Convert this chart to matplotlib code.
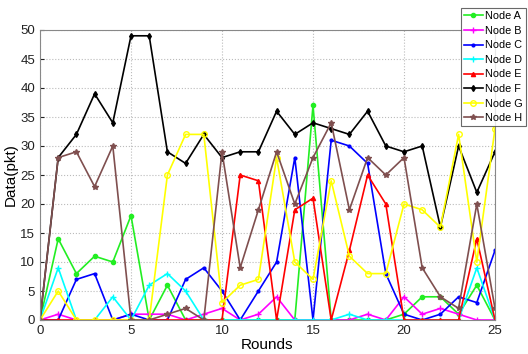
import numpy as np
import matplotlib
matplotlib.use('Agg')
from matplotlib import pyplot as plt

plt.rcParams['font.family'] = ['Liberation Sans', 'DejaVu Sans']

### Data
rounds = np.arange(0, 26)

node_a = [0, 14, 8, 11, 10, 18, 0, 6, 0, 0, 0, 0, 0, 0, 0, 37, 0, 0, 0, 0, 1, 4, 4, 1, 6, 0]
node_b = [0, 1, 0, 0, 0, 1, 1, 1, 0, 1, 2, 0, 1, 4, 0, 0, 0, 0, 1, 0, 4, 1, 2, 1, 0, 0]
node_c = [0, 0, 7, 8, 0, 1, 0, 0, 7, 9, 5, 0, 5, 10, 28, 0, 31, 30, 27, 8, 1, 0, 1, 4, 3, 12]
node_d = [0, 9, 0, 0, 4, 0, 6, 8, 5, 0, 0, 0, 0, 0, 0, 0, 0, 1, 0, 0, 0, 0, 0, 0, 9, 0]
node_e = [0, 0, 0, 0, 0, 0, 0, 0, 0, 0, 0, 25, 24, 0, 19, 21, 0, 12, 25, 20, 0, 0, 0, 0, 14, 0]
node_f = [0, 28, 32, 39, 34, 49, 49, 29, 27, 32, 28, 29, 29, 36, 32, 34, 33, 32, 36, 30, 29, 30, 16, 30, 22, 29]
node_g = [0, 5, 0, 0, 0, 0, 0, 25, 32, 32, 3, 6, 7, 28, 10, 7, 24, 11, 8, 8, 20, 19, 16, 32, 10, 33]
node_h = [0, 28, 29, 23, 30, 0, 0, 1, 2, 0, 29, 9, 19, 29, 20, 28, 34, 19, 28, 25, 28, 9, 4, 2, 20, 2]

labels = ['Node A', 'Node B', 'Node C', 'Node D', 'Node E', 'Node F', 'Node G', 'Node H']
series = [node_a, node_b, node_c, node_d, node_e, node_f, node_g, node_h]

# ----------------------------------------------------------------------------

styles = [
    dict(color='#22ee22', marker='o', ms=3),
    dict(color='#ff00ff', marker='+', ms=4),
    dict(color='#0000ff', marker='.', ms=4),
    dict(color='#00ffff', marker='+', ms=4),
    dict(color='#ff0000', marker='^', ms=3),
    dict(color='#000000', marker='d', ms=3),
    dict(color='#ffff00', marker='o', ms=4, mfc='none', mew=1.0),
    dict(color='#7f4f4f', marker='*', ms=4),
]

fig = plt.figure(figsize=(5.28, 3.54), dpi=100)
ax = fig.add_axes([40/528, 34/354, 455/528, 290/354])

for vals, lab, st in zip(series, labels, styles):
    ax.plot(rounds, vals, lw=1.2, label=lab, **st)

ax.set_xlim(0, 25)
ax.set_ylim(0, 50)
ax.set_xticks([0, 5, 10, 15, 20, 25])
ax.set_yticks(np.arange(0, 51, 5))
ax.grid(True, ls=':', color='#bbbbbb', lw=0.8)
ax.tick_params(direction='in', labelsize=9.5, colors='#222222', length=3)
for sp in ax.spines.values():
    sp.set_color('#888888')
    sp.set_linewidth(0.8)

ax.set_xlabel('Rounds', fontsize=11, labelpad=1)
ax.set_ylabel('Data(pkt)', fontsize=11, labelpad=2)

leg = fig.legend(loc='upper left', bbox_to_anchor=(461/528, 1 - 8/354),
                 fontsize=7.8, frameon=True, fancybox=False, edgecolor='#444444',
                 handlelength=1.7, handletextpad=0.25, labelspacing=0.42,
                 borderpad=0.3, borderaxespad=0)
leg.get_frame().set_linewidth(0.8)

fig.savefig('out.png', dpi=100)
